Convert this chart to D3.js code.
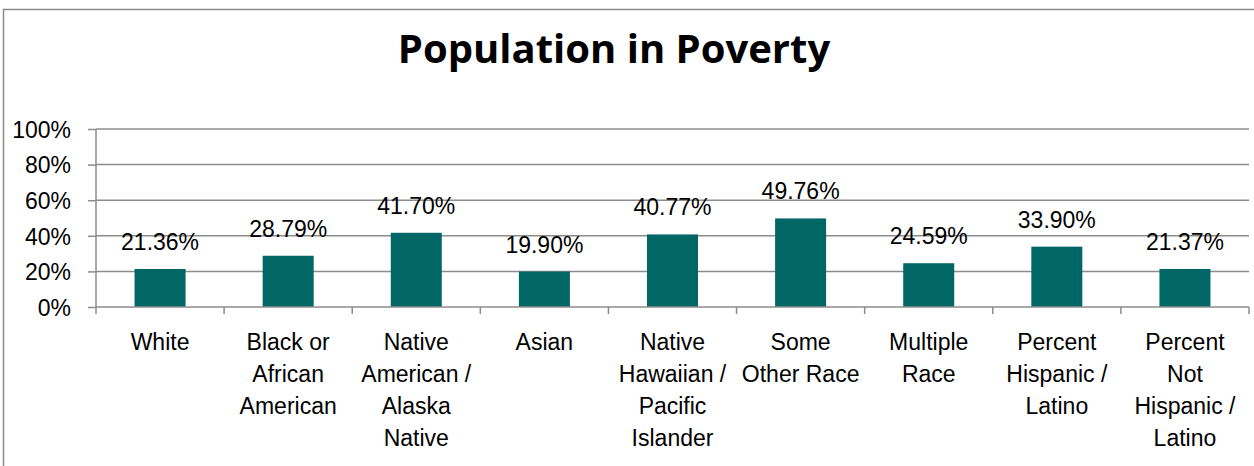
<!DOCTYPE html>
<html>
<head>
<meta charset="utf-8">
<script src="https://cdn.jsdelivr.net/npm/d3@7"></script>
<style>
  html, body { margin: 0; padding: 0; background: #fff; }
  svg { display: block; }
</style>
</head>
<body>
<svg id="chart" width="1254" height="466"></svg>
<script>
// Poverty rate by race / ethnicity
const categories = [
  ["White"],
  ["Black or", "African", "American"],
  ["Native", "American /", "Alaska", "Native"],
  ["Asian"],
  ["Native", "Hawaiian /", "Pacific", "Islander"],
  ["Some", "Other Race"],
  ["Multiple", "Race"],
  ["Percent", "Hispanic /", "Latino"],
  ["Percent", "Not", "Hispanic /", "Latino"]
];
const values = [21.36, 28.79, 41.70, 19.90, 40.77, 49.76, 24.59, 33.90, 21.37];
const yTicks = [0, 20, 40, 60, 80, 100];
const title = "Population in Poverty";

const W = 1254, H = 466;
const margin = { left: 96, right: 5, top: 129, bottom: 159 };
const font = "'Liberation Sans', Arial, sans-serif";
const barColor = "#006766";
const gridColor = "#8c8c8c";

const svg = d3.select("#chart");

// chart frame
svg.append("path")
  .attr("d", `M3.5,${H} V9.5 H${W}`)
  .attr("fill", "none")
  .attr("stroke", "#8c8c8c")
  .attr("stroke-width", 1.5);

const keys = categories.map((c, i) => i);
const x = d3.scaleBand()
  .domain(keys)
  .range([margin.left, W - margin.right])
  .paddingInner(0).paddingOuter(0);
const y = d3.scaleLinear().domain([0, 100]).range([H - margin.bottom, margin.top]);

// title
svg.append("text")
  .attr("x", 614).attr("y", 63)
  .attr("text-anchor", "middle")
  .attr("font-family", "'Open Sans', sans-serif")
  .attr("font-weight", "bold")
  .attr("font-size", 40)
  .text(title);

// horizontal gridlines
svg.append("g")
  .selectAll("line")
  .data(yTicks.filter(t => t > 0))
  .join("line")
  .attr("x1", margin.left).attr("x2", W - margin.right)
  .attr("y1", d => y(d)).attr("y2", d => y(d))
  .attr("stroke", gridColor).attr("stroke-width", 1.5);

// y axis
const yAxis = svg.append("g")
  .attr("transform", `translate(${margin.left},0)`)
  .call(d3.axisLeft(y).tickValues(yTicks).tickSize(8).tickPadding(17).tickFormat(d => d + "%"));
yAxis.selectAll("line, path").attr("stroke", gridColor).attr("stroke-width", 1.5);
yAxis.selectAll("text").attr("font-family", font).attr("font-size", 23).attr("fill", "#000").attr("dy", "0.36em");
yAxis.select(".domain").attr("d", `M0,${y(0)}V${y(100)}`);

// bars
const bw = 51;
svg.append("g")
  .selectAll("rect")
  .data(values)
  .join("rect")
  .attr("x", (d, i) => x(i) + x.bandwidth() / 2 - bw / 2)
  .attr("width", bw)
  .attr("y", d => y(d))
  .attr("height", d => y(0) - y(d))
  .attr("fill", barColor);

// x axis with boundary ticks between categories
const xAxisG = svg.append("g");
xAxisG.append("line")
  .attr("x1", margin.left).attr("x2", W - margin.right)
  .attr("y1", y(0)).attr("y2", y(0))
  .attr("stroke", gridColor).attr("stroke-width", 1.5);
xAxisG.selectAll("line.tk")
  .data(d3.range(categories.length + 1))
  .join("line")
  .attr("class", "tk")
  .attr("x1", i => i < categories.length ? x(i) : x.range()[1])
  .attr("x2", i => i < categories.length ? x(i) : x.range()[1])
  .attr("y1", y(0)).attr("y2", y(0) + 7)
  .attr("stroke", gridColor).attr("stroke-width", 1.5);

// category labels
const lab = svg.append("g")
  .selectAll("text")
  .data(categories)
  .join("text")
  .attr("text-anchor", "middle")
  .attr("font-family", font)
  .attr("font-size", 23)
  .attr("fill", "#000")
  .attr("transform", (d, i) => `translate(${x(i) + x.bandwidth() / 2},350)`);
lab.selectAll("tspan")
  .data(d => d)
  .join("tspan")
  .attr("x", 0)
  .attr("y", (d, j) => j * 32)
  .text(d => d);

// value labels
svg.append("g")
  .selectAll("text")
  .data(values)
  .join("text")
  .attr("x", (d, i) => x(i) + x.bandwidth() / 2)
  .attr("y", d => y(d) - 19)
  .attr("text-anchor", "middle")
  .attr("font-family", font)
  .attr("font-size", 23)
  .attr("fill", "#000")
  .text(d => d.toFixed(2) + "%");
</script>
</body>
</html>
